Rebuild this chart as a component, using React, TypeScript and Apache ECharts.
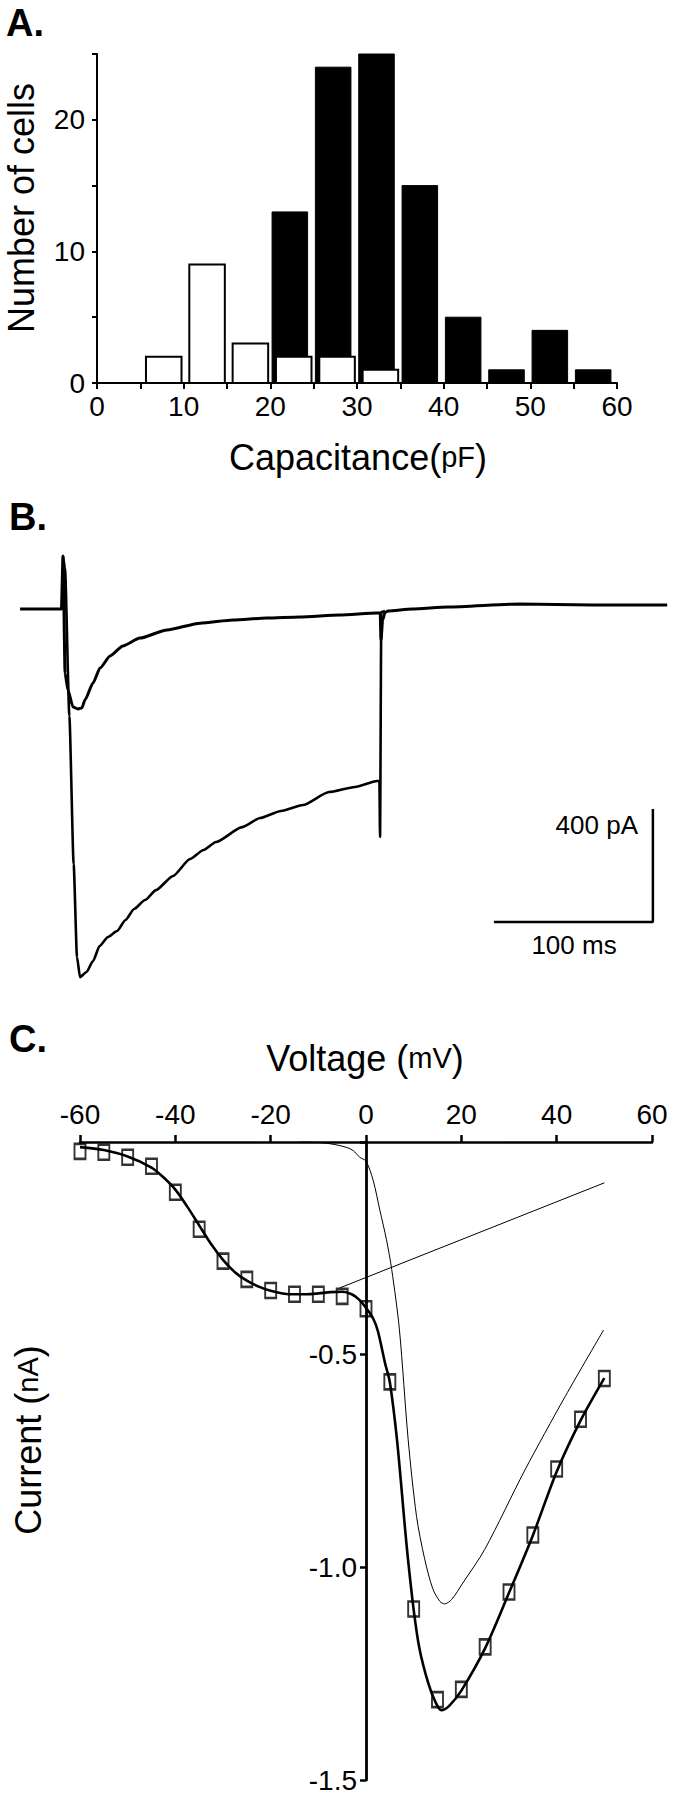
import React, { useEffect, useRef } from "react";
import * as echarts from "echarts";

const FONT = '"Liberation Sans", Arial, Helvetica, sans-serif';

// ---------- Panel A: capacitance histogram ----------
const blackBinStarts = [20, 25, 30, 35, 40, 45, 50, 55];
const blackCounts = [13, 24, 25, 15, 5, 1, 4, 1];
const whiteBinStarts = [5, 10, 15, 20, 25, 30];
const whiteCounts = [2, 9, 3, 2, 2, 1];

// ---------- Panel B: current traces (ms, pA) ----------
const smallTrace = [
  [-27, 0], [-15, 0], [-1, 0], [0, 188], [1.3, -227], [3.1, -287], [6.3, -347],
  [9.4, -354], [11.9, -350], [13.8, -322], [18.9, -262], [23.3, -209], [29.6, -166],
  [37.7, -131], [48.4, -103], [65.4, -74], [86.2, -50], [107, -39], [128, -32],
  [149, -28], [174, -21], [197.5, -14], [199.5, -14], [200, -110], [201, -40],
  [202.5, -12], [204.4, -7], [219.5, 0], [242, 7], [287, 18], [333, 14], [380, 14],
];
const bigTrace = [
  [0, 188], [1.26, 145], [4, -379], [6.7, -903], [8.8, -1232], [10.7, -1303],
  [14.8, -1285], [18.9, -1246], [23, -1193], [28.3, -1161], [34, -1140], [39.3, -1101],
  [44.7, -1062], [51.6, -1030], [58.5, -995], [69.2, -945], [79.9, -885], [88.4, -853],
  [96.2, -825], [112.6, -772], [123.9, -740], [137.1, -715], [150.9, -694], [167.3, -648],
  [183.6, -630], [197.5, -609], [199, -609], [199.4, -807], [200.2, -11], [202.5, -7],
];
const scaleBar = [[271, -1108], [371, -1108], [371, -708]];

// ---------- Panel C: I-V relation (mV, nA) ----------
const voltages = [-60, -55, -50, -45, -40, -35, -30, -25, -20, -15, -10, -5, 0, 5, 10, 15, 20, 25, 30, 35, 40, 45, 50];
const measuredCurrent = [
  -0.022, -0.024, -0.036, -0.057, -0.118, -0.205, -0.28, -0.323, -0.349, -0.358, -0.358,
  -0.363, -0.392, -0.564, -1.098, -1.311, -1.287, -1.187, -1.058, -0.924, -0.769, -0.652, -0.556,
];
const totalFit = [
  [-60, -0.012], [-55, -0.019], [-50, -0.034], [-45, -0.06], [-42.5, -0.083], [-40, -0.112],
  [-37.5, -0.152], [-35, -0.196], [-32.5, -0.24], [-30, -0.277], [-27.5, -0.306], [-25, -0.326],
  [-22.5, -0.34], [-20, -0.35], [-17.5, -0.356], [-15, -0.358], [-12.5, -0.358], [-10, -0.356],
  [-7.5, -0.353], [-5, -0.352], [-3, -0.358], [-1.5, -0.37], [0, -0.39], [1.5, -0.415],
  [2.5, -0.445], [4, -0.52], [5, -0.565], [6.5, -0.7], [8.2, -0.91], [8.8, -0.98], [10, -1.1],
  [11.2, -1.19], [13, -1.27], [14.5, -1.315], [15.8, -1.336], [17.5, -1.325], [20, -1.29],
  [25, -1.19], [30, -1.06], [35, -0.925], [40, -0.775], [45, -0.655], [50, -0.555],
];
const highThresholdFit = [
  [-14, 0], [-10, -0.001], [-6.5, -0.006], [-4, -0.013], [-2.7, -0.02], [-1.3, -0.036],
  [0, -0.045], [1.5, -0.09], [2.9, -0.16], [4.3, -0.23], [5.4, -0.3], [7, -0.44],
  [8.85, -0.7], [10.6, -0.88], [12.3, -0.98], [14, -1.05], [15.5, -1.08], [16.5, -1.086],
  [18, -1.075], [20.3, -1.037], [24.9, -0.958], [33.35, -0.771], [41.75, -0.599], [49.85, -0.442],
];
const lowThresholdExtension = [[-5.5, -0.343], [50, -0.096]];

export default function App() {
  const ref = useRef<HTMLDivElement>(null);
  useEffect(() => {
    document.body.style.margin = "0";
    if (!ref.current) return;
    const chart = echarts.init(ref.current, undefined, { renderer: "svg" });

    const txt = { color: "#000", fontFamily: FONT };
    const axisLineA = { show: true, lineStyle: { color: "#000", width: 2 } };

    const histRender = (x0: number, x1: number, fill: string, lw: number) =>
      (params: any, api: any) => {
        const b = api.value(0);
        const c = api.value(1);
        const p0 = api.coord([b + x0, c]);
        const p1 = api.coord([b + x1, 0]);
        return {
          type: "rect",
          shape: { x: p0[0], y: p0[1], width: p1[0] - p0[0], height: p1[1] - p0[1] },
          style: { fill, stroke: "#000", lineWidth: lw },
        };
      };

    // panel C grid geometry
    const cLeft = 80;
    const cWidth = 572;
    const zeroOffset = cWidth / 2; // x = 0 mV lies in the middle of the -60..60 range

    const option: any = {
      animation: false,
      backgroundColor: "#fff",
      grid: [
        { left: 97, width: 520, top: 54, height: 329 },
        { left: 15.3, width: 651.9, top: 552.5, height: 452 },
        { left: cLeft, width: cWidth, top: 1142, height: 638 },
      ],
      xAxis: [
        {
          gridIndex: 0, type: "value", min: 0, max: 60, interval: 5,
          axisLine: axisLineA,
          axisTick: { show: true, length: 6, lineStyle: { color: "#000", width: 2 } },
          axisLabel: { ...txt, fontSize: 28, margin: 9, formatter: (v: number) => (v % 10 === 0 ? String(v) : "") },
          splitLine: { show: false },
        },
        { gridIndex: 1, type: "value", min: -30, max: 380, show: false },
        {
          gridIndex: 2, type: "value", min: -60, max: 60, interval: 20, position: "top",
          axisLine: { show: true, onZero: false, lineStyle: { color: "#000", width: 2.5 } },
          axisTick: { show: true, length: 7, lineStyle: { color: "#000", width: 2.5 } },
          axisLabel: { ...txt, fontSize: 28, margin: 14 },
          splitLine: { show: false },
        },
      ],
      yAxis: [
        {
          gridIndex: 0, type: "value", min: 0, max: 25, interval: 5,
          axisLine: axisLineA,
          axisTick: { show: true, length: 5, lineStyle: { color: "#000", width: 2 } },
          axisLabel: { ...txt, fontSize: 28, margin: 12, formatter: (v: number) => (v % 10 === 0 ? String(v) : "") },
          splitLine: { show: false },
        },
        { gridIndex: 1, type: "value", min: -1400, max: 200, show: false },
        {
          gridIndex: 2, type: "value", min: -1.5, max: 0, interval: 0.5, position: "left",
          offset: -zeroOffset,
          axisLine: { show: true, onZero: false, lineStyle: { color: "#000", width: 2.8 } },
          axisTick: { show: true, length: 6, lineStyle: { color: "#000", width: 2.5 } },
          axisLabel: { ...txt, fontSize: 28, margin: 9, formatter: (v: number) => (v === 0 ? "" : v.toFixed(1)) },
          splitLine: { show: false },
        },
      ],
      series: [
        {
          type: "custom", xAxisIndex: 0, yAxisIndex: 0, encode: { x: 0, y: 1 },
          data: blackBinStarts.map((b, i) => [b, blackCounts[i]]),
          renderItem: histRender(0.2, 4.3, "#000", 1),
          z: 3,
        },
        {
          type: "custom", xAxisIndex: 0, yAxisIndex: 0, encode: { x: 0, y: 1 },
          data: whiteBinStarts.map((b, i) => [b, whiteCounts[i]]),
          renderItem: histRender(0.65, 4.75, "#fff", 2),
          z: 4,
        },
        {
          type: "line", xAxisIndex: 1, yAxisIndex: 1, data: smallTrace, symbol: "none",
          smooth: 0.2, smoothMonotone: "x",
          lineStyle: { color: "#000", width: 3 },
        },
        {
          type: "line", xAxisIndex: 1, yAxisIndex: 1, data: bigTrace, symbol: "none",
          smooth: 0.2, smoothMonotone: "x",
          lineStyle: { color: "#000", width: 2.6 },
        },
        {
          type: "line", xAxisIndex: 1, yAxisIndex: 1, data: scaleBar, symbol: "none",
          lineStyle: { color: "#000", width: 2.5 },
        },
        {
          type: "line", xAxisIndex: 2, yAxisIndex: 2, data: lowThresholdExtension, symbol: "none",
          lineStyle: { color: "#000", width: 1 },
        },
        {
          type: "line", xAxisIndex: 2, yAxisIndex: 2, data: highThresholdFit, symbol: "none",
          smooth: 0.3, lineStyle: { color: "#000", width: 1 },
        },
        {
          type: "line", xAxisIndex: 2, yAxisIndex: 2, data: totalFit, symbol: "none",
          smooth: 0.3, lineStyle: { color: "#000", width: 2.6 },
        },
        {
          type: "scatter", xAxisIndex: 2, yAxisIndex: 2,
          data: voltages.map((v, i) => [v, measuredCurrent[i]]),
          symbol: "rect", symbolSize: [11, 15],
          itemStyle: { color: "rgba(255,255,255,0)", borderColor: "#000", borderWidth: 2.2 },
          z: 5,
        },
      ],
      graphic: [
        { type: "text", left: 6, top: 4, style: { text: "A.", font: `bold 38px ${FONT}`, fill: "#000" } },
        { type: "text", left: 9, top: 498, style: { text: "B.", font: `bold 38px ${FONT}`, fill: "#000" } },
        { type: "text", left: 9, top: 1020, style: { text: "C.", font: `bold 38px ${FONT}`, fill: "#000" } },
        {
          type: "text", x: 358, y: 457,
          style: {
            text: "{a|Capacitance(}{b|pF}{a|)}", align: "center", verticalAlign: "middle",
            rich: { a: { fontSize: 36, fontFamily: FONT, fill: "#000" }, b: { fontSize: 29, fontFamily: FONT, fill: "#000" } },
          },
        },
        {
          type: "text", x: 21, y: 208, rotation: Math.PI / 2,
          style: { text: "Number of cells", align: "center", verticalAlign: "middle", font: `36px ${FONT}`, fill: "#000" },
        },
        {
          type: "text", x: 638, y: 825,
          style: { text: "400 pA", align: "right", verticalAlign: "middle", font: `26px ${FONT}`, fill: "#000" },
        },
        {
          type: "text", x: 574, y: 945,
          style: { text: "100 ms", align: "center", verticalAlign: "middle", font: `26px ${FONT}`, fill: "#000" },
        },
        {
          type: "text", x: 365, y: 1058,
          style: {
            text: "{a|Voltage (}{b|mV}{a|)}", align: "center", verticalAlign: "middle",
            rich: { a: { fontSize: 36, fontFamily: FONT, fill: "#000" }, b: { fontSize: 29, fontFamily: FONT, fill: "#000" } },
          },
        },
        {
          type: "text", x: 28, y: 1440, rotation: Math.PI / 2,
          style: {
            text: "{a|Current (}{b|nA}{a|)}", align: "center", verticalAlign: "middle",
            rich: { a: { fontSize: 36, fontFamily: FONT, fill: "#000" }, b: { fontSize: 29, fontFamily: FONT, fill: "#000" } },
          },
        },
      ],
    };
    chart.setOption(option);
    return () => chart.dispose();
  }, []);
  return <div ref={ref} style={{ width: 678, height: 1800 }} />;
}
